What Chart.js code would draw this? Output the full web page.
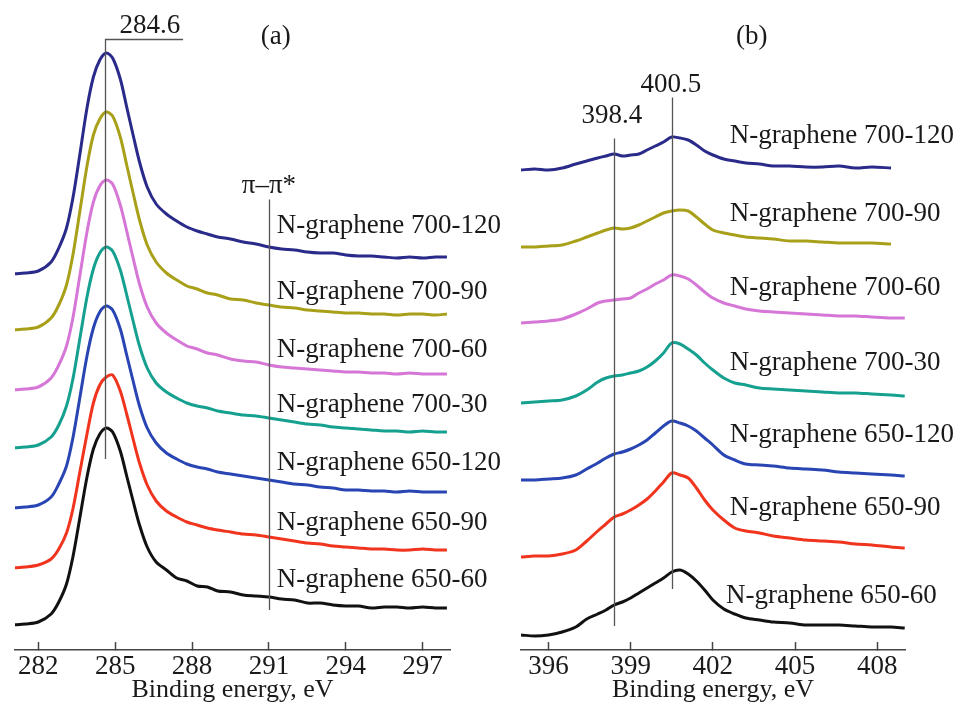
<!DOCTYPE html>
<html><head><meta charset="utf-8">
<script src="https://cdn.jsdelivr.net/npm/chart.js@4.4.0/dist/chart.umd.min.js"></script>
<style>
html,body{margin:0;padding:0;background:#fff;}
#wrap{position:relative;width:959px;height:706px;overflow:hidden;background:#fff;}
#ca{position:absolute;left:0;top:0;}
#cb{position:absolute;left:510px;top:0;}
</style></head><body>
<div id="wrap"><canvas id="ca" width="510" height="706"></canvas><canvas id="cb" width="449" height="706"></canvas></div>
<script>
// ---------- data: (a) C1s region, offset-stacked intensity (arb. units) ----------
const energyC = [281.0, 281.5, 282.0, 282.5, 282.8, 283.1, 283.35, 283.6, 283.9, 284.15, 284.4, 284.65, 284.9, 285.2, 285.45, 285.7, 285.95, 286.25, 286.6, 287.0, 287.4, 287.8, 288.2, 288.6, 289.0, 289.5, 290.0, 290.5, 291.0, 291.5, 292.0, 292.5, 293.0, 293.5, 294.0, 294.5, 295.0, 295.5, 296.0, 296.5, 297.0, 297.5, 297.95];
const c700_120 = [376, 377, 379, 388, 402, 422, 452, 492, 542, 573, 590, 597, 592, 571, 543, 515, 488, 463, 446, 436, 429, 423, 419, 416, 413, 411, 408, 406, 403, 401, 400, 398, 397, 397, 395, 394, 394, 393, 392, 393, 392, 393, 393];
const c700_90  = [320, 321, 323, 332, 345, 365, 395, 435, 484, 515, 531, 538, 534, 513, 485, 457, 430, 405, 388, 377, 370, 364, 361, 357, 355, 351, 350, 347, 345, 343, 342, 340, 339, 338, 337, 337, 336, 336, 335, 336, 336, 335, 336];
const c700_60  = [260, 261, 263, 272, 285, 304, 332, 371, 418, 448, 464, 470, 466, 445, 419, 392, 366, 343, 327, 317, 310, 304, 301, 297, 295, 291, 289, 288, 285, 283, 282, 281, 280, 279, 278, 278, 277, 277, 276, 277, 276, 276, 276];
const c700_30  = [202, 203, 205, 213, 225, 244, 271, 308, 353, 381, 397, 403, 399, 380, 355, 329, 304, 282, 267, 258, 252, 247, 244, 242, 239, 237, 235, 234, 232, 230, 228, 226, 225, 223, 222, 221, 220, 219, 219, 218, 219, 218, 218];
const c650_120 = [142, 143, 145, 153, 166, 184, 212, 249, 294, 322, 338, 344, 340, 321, 295, 269, 244, 222, 207, 197, 191, 186, 183, 181, 178, 176, 174, 172, 170, 168, 166, 165, 163, 162, 160, 160, 159, 159, 158, 159, 158, 158, 158];
const c650_90  = [82, 83, 85, 91, 101, 117, 141, 175, 216, 247, 265, 273, 275, 259, 236, 211, 187, 165, 149, 139, 133, 128, 125, 122, 120, 118, 116, 115, 113, 111, 109, 107, 106, 104, 103, 102, 101, 101, 100, 100, 101, 100, 100];
const c650_60  = [25, 26, 28, 36, 48, 66, 93, 129, 173, 201, 216, 222, 218, 199, 174, 149, 125, 103, 88, 80, 72, 69, 64, 63, 59, 58, 55, 54, 53, 51, 50, 47, 47, 45, 44, 44, 42, 43, 43, 42, 43, 42, 42];

// ---------- data: (b) N1s region ----------
const energyN = [395.0, 395.5, 396.0, 396.5, 397.0, 397.4, 397.8, 398.1, 398.4, 398.7, 399.0, 399.3, 399.6, 399.9, 400.2, 400.5, 400.8, 401.1, 401.4, 401.7, 402.0, 402.4, 402.8, 403.2, 403.7, 404.2, 404.8, 405.4, 406.0, 406.6, 407.2, 407.8, 408.5, 409.0];
const n700_120 = [480, 481, 480, 482, 486, 489, 492, 494, 496, 494, 495, 496, 500, 504, 508, 513, 512, 510, 505, 499, 495, 491, 489, 487, 486, 484, 484, 483, 483, 484, 482, 483, 482, null];
const n700_90  = [403, 403, 404, 405, 409, 413, 417, 420, 422, 421, 422, 425, 429, 433, 437, 439, 440, 439, 433, 426, 420, 417, 415, 413, 412, 411, 409, 409, 408, 407, 407, 407, 406, null];
const n700_60  = [327, 328, 329, 331, 336, 341, 347, 349, 350, 351, 352, 357, 361, 366, 370, 375, 374, 371, 365, 358, 352, 347, 344, 341, 339, 338, 337, 336, 335, 334, 334, 333, 332, 332];
const n700_30  = [247, 248, 249, 250, 254, 260, 268, 272, 274, 275, 277, 279, 283, 289, 297, 307, 306, 301, 295, 287, 280, 272, 267, 265, 262, 261, 260, 259, 258, 257, 257, 256, 255, 254];
const n650_120 = [170, 170, 171, 172, 175, 181, 187, 192, 196, 198, 201, 205, 210, 217, 224, 229, 227, 224, 219, 212, 205, 195, 190, 186, 185, 184, 182, 181, 180, 178, 177, 176, 175, 174];
const n650_90  = [93, 94, 94, 96, 100, 109, 119, 126, 133, 136, 140, 145, 151, 159, 168, 177, 175, 172, 162, 150, 140, 130, 122, 119, 117, 114, 112, 110, 109, 108, 106, 105, 103, 102];
const n650_60  = [15, 14, 15, 18, 23, 31, 36, 40, 45, 48, 52, 57, 62, 67, 72, 78, 80, 76, 69, 60, 50, 41, 36, 32, 30, 28, 27, 25, 25, 25, 24, 23, 23, 22];

const seriesNames = ['N-graphene 700-120', 'N-graphene 700-90', 'N-graphene 700-60', 'N-graphene 700-30', 'N-graphene 650-120', 'N-graphene 650-90', 'N-graphene 650-60'];
const ticksC = [282, 285, 288, 291, 294, 297];
const ticksN = [396, 399, 402, 405, 408];
const peakC = 284.6, pipiC = 291;
const peakN1 = 398.4, peakN2 = 400.5;

// ---------- styling ----------
const colors = ['#2a2a8a', '#a9a01a', '#d676d6', '#15a08f', '#2945b3', '#f0341d', '#111111'];
const FONT = '"Liberation Serif", "Times New Roman", serif';

function toPts(xs, ys){ return xs.map((x,i)=>({x:x, y:ys[i]})); }
function makeSets(xs, list){
  return list.map((ys,i)=>({label:seriesNames[i], data:toPts(xs, ys), borderColor:colors[i], borderWidth:3,
    pointRadius:0, fill:false, tension:0.3, borderJoinStyle:'round', spanGaps:false}));
}

function annot(cfg){
  return {id:'annot', afterDatasetsDraw(chart){
    const ctx = chart.ctx, x = chart.scales.x, y = chart.scales.y;
    ctx.save();
    ctx.strokeStyle = '#555'; ctx.lineWidth = 1.3;
    cfg.lines.forEach(l=>{
      const px = Math.round(x.getPixelForValue(l.x)) + 0.5;
      ctx.beginPath();
      ctx.moveTo(px, y.getPixelForValue(l.y1));
      ctx.lineTo(px, Math.round(y.getPixelForValue(l.y2)) + 0.5);
      if (l.toX !== undefined) ctx.lineTo(x.getPixelForValue(l.toX), Math.round(y.getPixelForValue(l.y2)) + 0.5);
      ctx.stroke();
    });
    ctx.fillStyle = '#1a1a1a';
    ctx.font = '27px ' + FONT;
    ctx.textBaseline = 'alphabetic';
    cfg.texts.forEach(t=>{
      ctx.textAlign = t.align || 'left';
      ctx.fillText(t.text, x.getPixelForValue(t.x), y.getPixelForValue(t.y));
    });
    ctx.restore();
  }};
}

function makeOpts(min, max, ticks, padL, padR){
  return {
    responsive:false, animation:false, devicePixelRatio:1,
    layout:{padding:{left:padL, right:padR, top:0, bottom:0}},
    plugins:{legend:{display:false}, tooltip:{enabled:false}},
    scales:{
      x:{type:'linear', min:min, max:max,
        afterBuildTicks: ax => { ax.ticks = ticks.map(v=>({value:v})); },
        afterFit: ax => { ax.height = 56; },
        grid:{display:true, drawOnChartArea:false, drawTicks:true, tickLength:-8, tickWidth:1.5, tickColor:'#444'},
        border:{display:true, color:'#444', width:1.5},
        ticks:{padding:9, color:'#1a1a1a', font:{family:FONT, size:27}, maxRotation:0, autoSkip:false},
        title:{display:true, text:'Binding energy, eV', color:'#1a1a1a', font:{family:FONT, size:26}, padding:{top:0, bottom:0}}
      },
      y:{display:false, min:0, max:650}
    }
  };
}

const labelYC = [417, 351, 293, 238, 180, 120, 63];
const textsC = seriesNames.map((n,i)=>({text:n, x:291.31, y:labelYC[i]}));
textsC.push({text:String(peakC), x:286.35, y:617, align:'center'});
textsC.push({text:'(a)', x:291.27, y:606, align:'center'});
textsC.push({text:'\u03c0\u2013\u03c0*', x:291.0, y:457, align:'center'});

new Chart(document.getElementById('ca'), {
  type:'line',
  data:{datasets: makeSets(energyC, [c700_120, c700_90, c700_60, c700_30, c650_120, c650_90, c650_60])},
  options: makeOpts(281.09, 298.07, ticksC, 15, 60),
  plugins:[annot({
    lines:[{x:peakC, y1:191, y2:611, toX:287.65}, {x:pipiC, y1:40, y2:451}],
    texts:textsC
  })]
});

const labelYN = [507, 429, 355, 280, 208, 135, 47];
const textsN = seriesNames.map((n,i)=>({text:n, x:(i===6?402.48:402.62), y:labelYN[i]}));
textsN.push({text:String(peakN1), x:398.32, y:527, align:'center'});
textsN.push({text:String(peakN2), x:400.47, y:558, align:'center'});
textsN.push({text:'(b)', x:403.42, y:606, align:'center'});

new Chart(document.getElementById('cb'), {
  type:'line',
  data:{datasets: makeSets(energyN, [n700_120, n700_90, n700_60, n700_30, n650_120, n650_90, n650_60])},
  options: makeOpts(395.0, 409.01, ticksN, 11, 54),
  plugins:[annot({
    lines:[{x:peakN1, y1:24, y2:512}, {x:peakN2, y1:61, y2:553}],
    texts:textsN
  })]
});
</script>
</body></html>
